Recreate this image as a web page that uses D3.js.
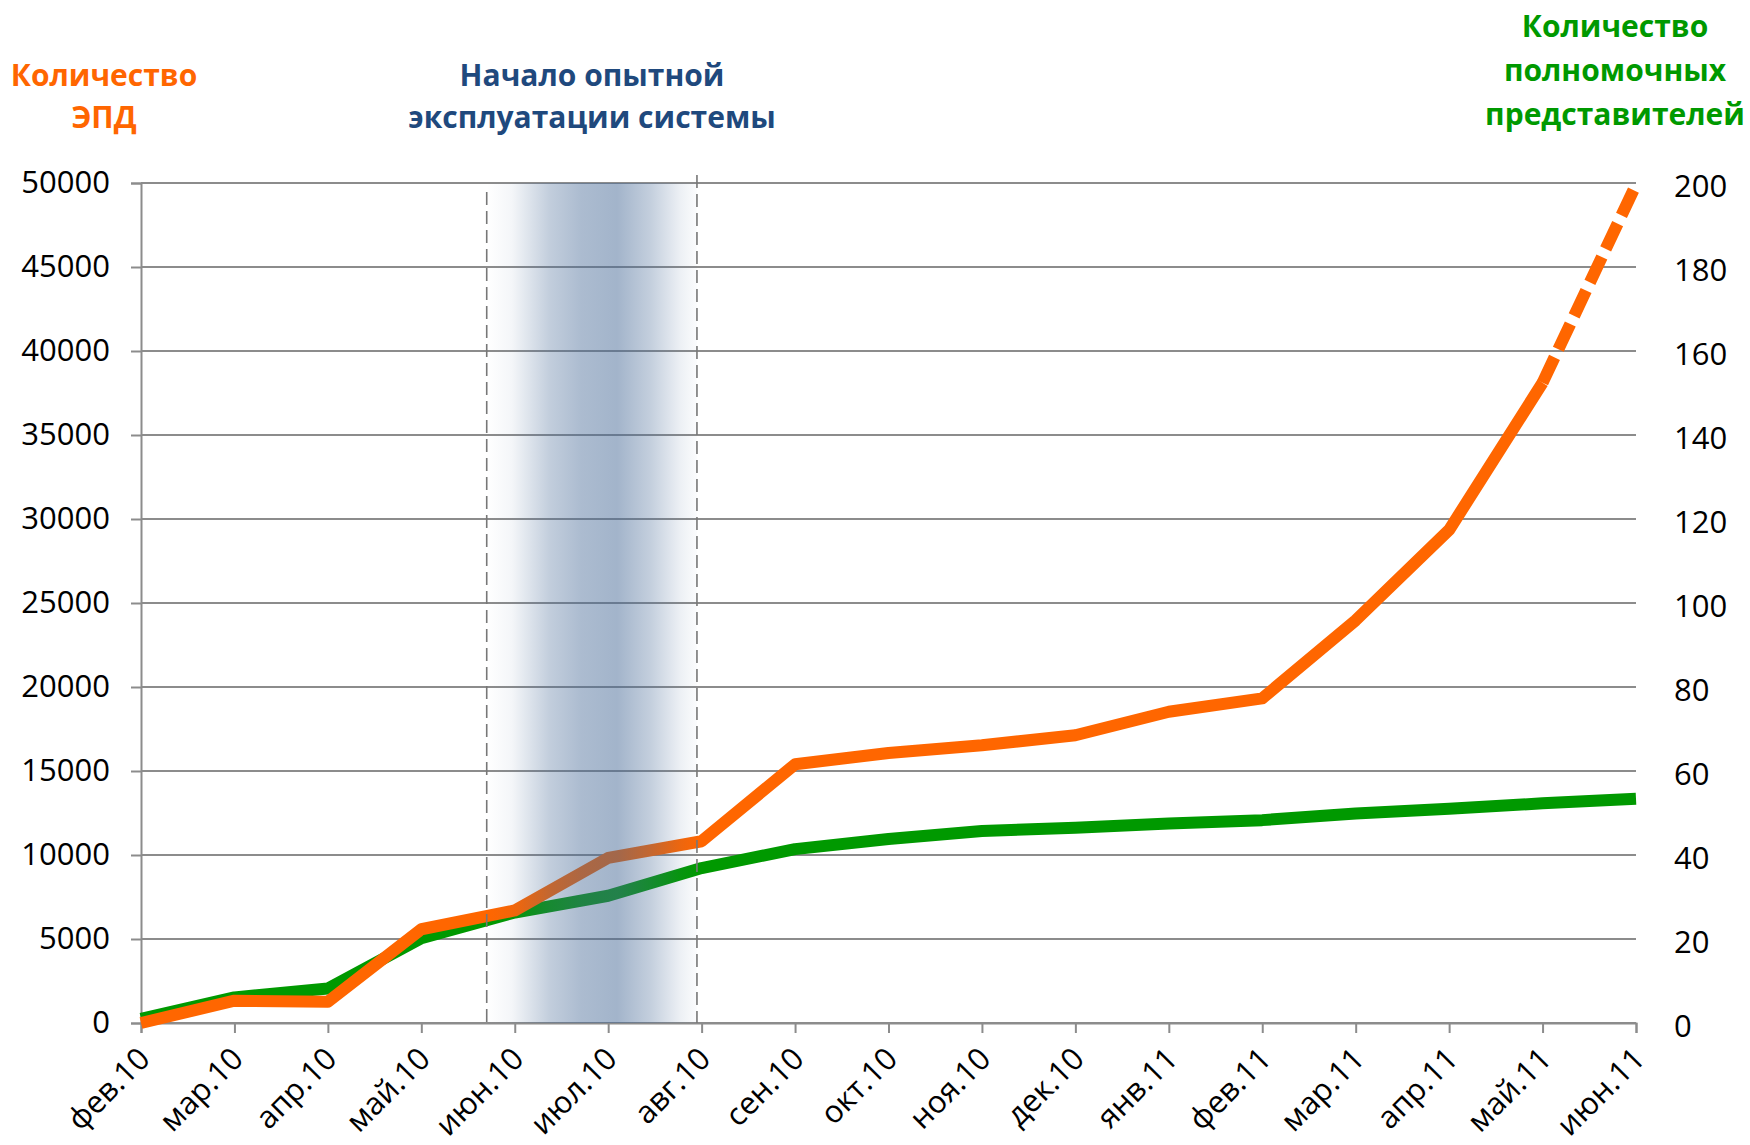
<!DOCTYPE html>
<html>
<head>
<meta charset="utf-8">
<script src="https://cdn.jsdelivr.net/npm/d3@7"></script>
<style>
  body { margin: 0; background: #fff; }
  text { font-family: "Open Sans", "DejaVu Sans", sans-serif; }
</style>
</head>
<body>
<div id="chart"></div>
<script>
// months along the x axis
var months = ["фев.10", "мар.10", "апр.10", "май.10", "июн.10", "июл.10", "авг.10", "сен.10",
  "окт.10", "ноя.10", "дек.10", "янв.11", "фев.11", "мар.11", "апр.11", "май.11", "июн.11"];

// number of EPD (left axis), last point is a forecast
var epdValues = [0, 1330, 1260, 5580, 6700, 9830, 10820, 15400, 16070, 16530, 17130,
  18530, 19320, 23970, 29350, 38110, 49900];

// number of authorised representatives (right axis)
var repValues = [1, 6.1, 8.2, 20.2, 26.3, 30.3, 36.9, 41.4, 43.8, 45.7, 46.5,
  47.5, 48.3, 49.9, 51.0, 52.3, 53.4];

var leftTicks = [0, 5000, 10000, 15000, 20000, 25000, 30000, 35000, 40000, 45000, 50000];
var rightTicks = [0, 20, 40, 60, 80, 100, 120, 140, 160, 180, 200];

// trial period, in month index units
var trialStart = 3.7;
var trialEnd = 5.95;
var forecastFrom = 15;

var svgWidth = 1750;
var svgHeight = 1145;

var margin = {top: 183, right: 114, bottom: 122, left: 141};
var width = svgWidth - margin.left - margin.right;
var height = svgHeight - margin.top - margin.bottom;

var svg = d3.select("#chart")
  .append("svg")
  .attr("width", svgWidth)
  .attr("height", svgHeight);

var chartGroup = svg.append("g")
  .attr("transform", `translate(${margin.left}, ${margin.top})`);

// scales
var xScale = d3.scalePoint().domain(months).range([0, width]);
var xIndex = d3.scaleLinear().domain([0, months.length - 1]).range([0, width]);
var yLeft = d3.scaleLinear().domain([0, 50000]).range([height, 0]);
var yRight = d3.scaleLinear().domain([0, 200]).range([height, 0]);

var gridColor = "#8c8c8c";

// gradient for trial band
var defs = svg.append("defs");
var grad = defs.append("linearGradient")
  .attr("id", "trialGrad")
  .attr("x1", "0%").attr("x2", "100%")
  .attr("y1", "0%").attr("y2", "0%");
[[0, 0.0], [0.12, 0.06], [0.3, 0.33], [0.45, 0.45], [0.62, 0.5], [0.78, 0.32], [0.92, 0.1], [1, 0.02]]
  .forEach(function(s) {
    grad.append("stop")
      .attr("offset", (s[0] * 100) + "%")
      .attr("stop-color", "rgb(70,105,150)")
      .attr("stop-opacity", s[1]);
  });

// horizontal grid lines
chartGroup.append("g")
  .selectAll("line")
  .data(leftTicks)
  .enter()
  .append("line")
  .attr("x1", 0)
  .attr("x2", width)
  .attr("y1", d => yLeft(d))
  .attr("y2", d => yLeft(d))
  .attr("stroke", gridColor)
  .attr("stroke-width", 2);

// left axis
var leftAxis = d3.axisLeft(yLeft).tickValues(leftTicks).tickSize(10).tickPadding(21).tickFormat(d3.format("d"));
var leftG = chartGroup.append("g").call(leftAxis);
leftG.select(".domain").attr("stroke", gridColor).attr("stroke-width", 2);
leftG.selectAll(".tick line").attr("stroke", gridColor).attr("stroke-width", 2);
leftG.selectAll(".tick text")
  .attr("font-size", 31)
  .attr("fill", "#000")
  .attr("font-family", "'Open Sans', sans-serif");

// right axis (labels only)
var rightAxis = d3.axisRight(yRight).tickValues(rightTicks).tickSize(0).tickPadding(38);
var rightG = chartGroup.append("g")
  .attr("transform", `translate(${width}, 4)`)
  .call(rightAxis);
rightG.select(".domain").remove();
rightG.selectAll(".tick text")
  .attr("font-size", 31)
  .attr("fill", "#000")
  .attr("font-family", "'Open Sans', sans-serif");

// bottom axis
var bottomAxis = d3.axisBottom(xScale).tickSize(10).tickFormat("");
var bottomG = chartGroup.append("g")
  .attr("transform", `translate(0, ${height})`)
  .call(bottomAxis);
bottomG.select(".domain").attr("stroke", gridColor).attr("stroke-width", 2);
bottomG.selectAll(".tick line").attr("stroke", gridColor).attr("stroke-width", 2);

// rotated month labels
chartGroup.append("g")
  .selectAll("text")
  .data(months)
  .enter()
  .append("text")
  .attr("transform", d => `translate(${xScale(d) + 3}, ${height + 30}) rotate(-45)`)
  .attr("text-anchor", "end")
  .attr("dy", "0.35em")
  .attr("font-size", 31)
  .attr("fill", "#000")
  .text(d => d);

// lines
var lineRep = d3.line()
  .x((d, i) => xScale(months[i]))
  .y(d => yRight(d));

var lineEpd = d3.line()
  .x(d => xScale(months[d.i]))
  .y(d => yLeft(d.v));

var epdPoints = epdValues.map((v, i) => ({i: i, v: v}));

chartGroup.append("path")
  .datum(repValues)
  .attr("d", lineRep)
  .attr("fill", "none")
  .attr("stroke", "#009900")
  .attr("stroke-width", 12)
  .attr("stroke-linejoin", "round");

chartGroup.append("path")
  .datum(epdPoints.filter(d => d.i <= forecastFrom))
  .attr("d", lineEpd)
  .attr("fill", "none")
  .attr("stroke", "#ff6600")
  .attr("stroke-width", 12)
  .attr("stroke-linejoin", "round");

chartGroup.append("path")
  .datum(epdPoints.filter(d => d.i >= forecastFrom))
  .attr("d", lineEpd)
  .attr("fill", "none")
  .attr("stroke", "#ff6600")
  .attr("stroke-width", 12)
  .attr("stroke-dasharray", "28,9");

// trial band overlay
chartGroup.append("rect")
  .attr("x", xIndex(trialStart))
  .attr("y", 0)
  .attr("width", xIndex(trialEnd) - xIndex(trialStart))
  .attr("height", height)
  .attr("fill", "url(#trialGrad)");

// dashed borders of trial period
chartGroup.append("line")
  .attr("x1", xIndex(trialStart)).attr("x2", xIndex(trialStart))
  .attr("y1", 9).attr("y2", height)
  .attr("stroke", "#777").attr("stroke-width", 1.6)
  .attr("stroke-dasharray", "13,6");

chartGroup.append("line")
  .attr("x1", xIndex(trialEnd)).attr("x2", xIndex(trialEnd))
  .attr("y1", -8).attr("y2", height)
  .attr("stroke", "#777").attr("stroke-width", 1.6)
  .attr("stroke-dasharray", "13,6");

// titles
function title(lines, x, y0, step, color) {
  var t = svg.append("text")
    .attr("text-anchor", "middle")
    .attr("font-weight", "bold")
    .attr("font-size", 30)
    .attr("fill", color);
  lines.forEach(function(l, i) {
    t.append("tspan").attr("x", x).attr("y", y0 + i * step).text(l);
  });
}

title(["Количество", "ЭПД"], 104, 86, 42, "#ff6600");
title(["Начало опытной", "эксплуатации системы"], 592, 86, 42, "#1f497d");
title(["Количество", "полномочных", "представителей"], 1615, 37, 44, "#009900");
</script>
</body>
</html>
